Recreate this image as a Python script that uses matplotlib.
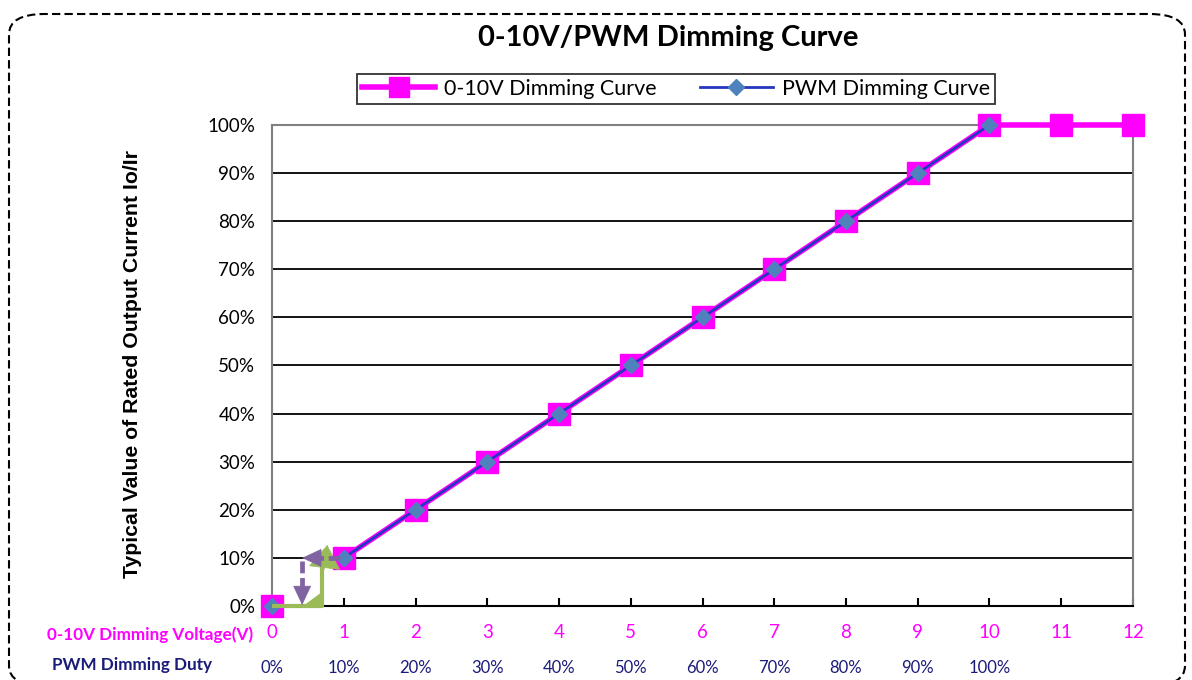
#!/usr/bin/env python3
import numpy as np
import matplotlib
matplotlib.use('Agg')
import matplotlib.pyplot as plt
from matplotlib.patches import FancyBboxPatch
from matplotlib.lines import Line2D

# 0-10V dimming: voltage (V) -> output current (%)
volt_x = [0, 1, 2, 3, 4, 5, 6, 7, 8, 9, 10, 11, 12]
volt_y = [0, 10, 20, 30, 40, 50, 60, 70, 80, 90, 100, 100, 100]

# PWM dimming: duty position on the same axis -> output current (%)
pwm_x = [0, 1, 2, 3, 4, 5, 6, 7, 8, 9, 10]
pwm_y = [0, 10, 20, 30, 40, 50, 60, 70, 80, 90, 100]
pwm_labels = ['0%', '10%', '20%', '30%', '40%', '50%', '60%', '70%', '80%', '90%', '100%']

y_ticks = [0, 10, 20, 30, 40, 50, 60, 70, 80, 90, 100]

MAGENTA = '#FF00FF'
BLUE = '#2536C0'
DIAMOND = '#4F81BD'
NAVY = '#1B1B7A'
GREEN = '#9BBB59'
PURPLE = '#8064A2'


def dimming_curve():
    plt.rcParams['font.family'] = ['Lato', 'DejaVu Sans']

    fig = plt.figure(figsize=(11.92, 6.8), dpi=100)
    ax = fig.add_axes([0.2282, 0.1088, 0.9505 - 0.2282, 0.8162 - 0.1088])

    # dashed rounded outer frame
    frame = FancyBboxPatch((9 / 1192, -6 / 680), 1176 / 1192, 672 / 680,
                           boxstyle='round,pad=0,rounding_size=0.03',
                           transform=fig.transFigure, fill=False,
                           edgecolor='black', linestyle=(0, (4, 2)), linewidth=1.5,
                           clip_on=False)
    fig.patches.append(frame)

    for y in y_ticks[1:-1]:
        ax.axhline(y, color='black', linewidth=1.3, zorder=1)

    # curves: the 0 -> 1 step is drawn by the arrows, not by the line
    ax.plot(volt_x[1:], volt_y[1:], color=MAGENTA, linewidth=4, zorder=3, clip_on=False)
    ax.plot(volt_x, volt_y, linestyle='none', marker='s', markersize=16,
            markerfacecolor=MAGENTA, markeredgecolor=MAGENTA, zorder=3, clip_on=False)
    ax.plot(pwm_x[1:], pwm_y[1:], color=BLUE, linewidth=2, zorder=4, clip_on=False)
    ax.plot(pwm_x, pwm_y, linestyle='none', marker='D', markersize=8,
            markerfacecolor=DIAMOND, markeredgecolor=DIAMOND, zorder=4, clip_on=False)

    # little elbow arrows near the origin (green: up to 10%, purple: back down)
    ax.plot([0, 0.70, 0.70], [0, 0, 8.5], color=GREEN, linewidth=3,
            solid_capstyle='butt', zorder=5, clip_on=False)
    ax.fill([0.43, 0.70, 0.70], [0, 0, 2.9], color=GREEN, zorder=5, clip_on=False)
    ax.annotate('', xy=(0.77, 12.7), xytext=(0.73, 7.6),
                arrowprops=dict(arrowstyle='-|>,head_length=1.0,head_width=0.68',
                                color=GREEN, lw=0.5, shrinkA=0, shrinkB=0,
                                mutation_scale=16),
                zorder=5, annotation_clip=False)

    ax.plot([0.95, 0.66], [10, 10], color=PURPLE, linewidth=3.4,
            linestyle=(0, (2.5, 1)), zorder=6, clip_on=False)
    ax.plot([0.42, 0.42], [9.4, 4.0], color=PURPLE, linewidth=3.4,
            linestyle=(0, (2.5, 1)), zorder=6, clip_on=False)
    purple_head = dict(arrowstyle='-|>,head_length=1.0,head_width=0.47',
                       color=PURPLE, lw=0.5, shrinkA=0, shrinkB=0, mutation_scale=13)
    ax.annotate('', xy=(0.42, 10), xytext=(0.67, 10), arrowprops=purple_head,
                zorder=6, annotation_clip=False)
    ax.annotate('', xy=(0.42, 0.2), xytext=(0.42, 4.0), arrowprops=purple_head,
                zorder=6, annotation_clip=False)

    ax.set_xlim(0, 12)
    ax.set_ylim(0, 100)
    ax.set_xticks(volt_x)
    ax.set_xticklabels([str(v) for v in volt_x], color=MAGENTA, fontsize=13.5)
    ax.set_yticks(y_ticks)
    ax.set_yticklabels([f'{y}%' for y in y_ticks], fontsize=13.5)
    ax.tick_params(axis='x', direction='in', length=6, width=1.5, pad=13)
    ax.tick_params(axis='y', length=0, pad=12)

    for side in ['top', 'right', 'left']:
        ax.spines[side].set_color('#808080')
        ax.spines[side].set_linewidth(1.5)
    ax.spines['bottom'].set_color('black')
    ax.spines['bottom'].set_linewidth(1.5)

    for xv, lab in zip(pwm_x, pwm_labels):
        ax.text(xv, -12.9, lab, color=NAVY, fontsize=12, ha='center', va='center',
                clip_on=False)

    ax.text(-0.27, -5.9, '0-10V Dimming Voltage(V)', color=MAGENTA, fontsize=12.3,
            fontweight='bold', ha='right', va='center', clip_on=False)
    ax.text(-0.84, -12.2, 'PWM Dimming Duty', color=NAVY, fontsize=12.3,
            fontweight='bold', ha='right', va='center', clip_on=False)

    fig.text(133 / 1192, 1 - 364 / 680, 'Typical Value of Rated Output Current Io/Ir',
             rotation=90, ha='center', va='center', fontsize=15.3, fontweight='bold',
             family=['Liberation Sans', 'DejaVu Sans'])

    fig.text(668 / 1192, 1 - 38 / 680, '0-10V/PWM Dimming Curve', ha='center',
             va='center', fontsize=21, fontweight='bold')

    handles = [
        Line2D([], [], color=MAGENTA, linewidth=4, marker='s', markersize=15,
               markerfacecolor=MAGENTA, markeredgecolor=MAGENTA),
        Line2D([], [], color=BLUE, linewidth=2, marker='D', markersize=8,
               markerfacecolor=DIAMOND, markeredgecolor=DIAMOND),
    ]
    leg = fig.legend(handles, ['0-10V Dimming Curve', 'PWM Dimming Curve'],
                     loc='center', bbox_to_anchor=(676 / 1192, 1 - 89 / 680),
                     ncol=2, fontsize=15.5, frameon=True, fancybox=False,
                     edgecolor='black', handlelength=3.4, columnspacing=2,
                     borderpad=0.25, handletextpad=0.4)
    leg.get_frame().set_linewidth(1.3)

    fig.savefig('out.png', dpi=100)


if __name__ == '__main__':
    dimming_curve()
